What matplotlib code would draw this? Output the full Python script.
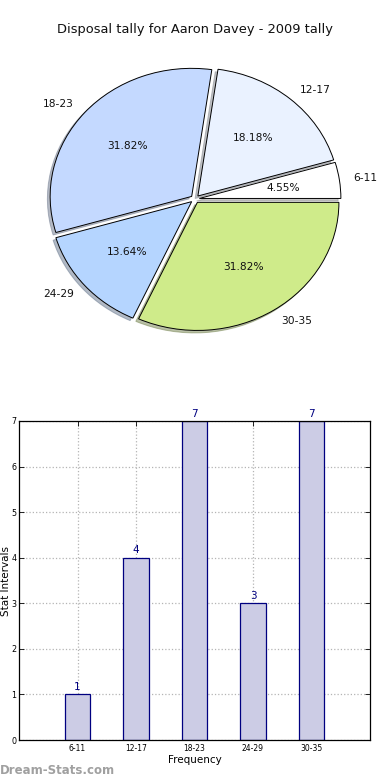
import matplotlib
matplotlib.use("Agg")
import matplotlib.pyplot as plt

categories = ["6-11", "12-17", "18-23", "24-29", "30-35"]
counts = [1, 4, 7, 3, 7]
pie_colors = ["#ffffff", "#eaf2ff", "#c4d9ff", "#b5d5ff", "#cfeb8a"]
title = "Disposal tally for Aaron Davey - 2009 tally"

fig = plt.figure(figsize=(3.9, 7.8), dpi=100)

# Pie
axp = fig.add_axes([0.0282, 0.5314, 0.9436, 0.4269])
wedges, texts, autotexts = axp.pie(
    counts, labels=categories, colors=pie_colors, explode=[0.031] * len(counts),
    startangle=0, autopct="%1.2f%%", pctdistance=0.6, labeldistance=1.1,
    shadow={"ox": -0.014, "oy": -0.014, "shade": 0.45},
    wedgeprops=dict(edgecolor="black", linewidth=0.7),
    textprops=dict(fontsize=7.7, color="#111111"))
axp.set_aspect("auto")
axp.set_xlim(-1.3, 1.3)
axp.set_ylim(-1.3, 1.3)
fig.text(0.5, 1 - 30 / 780, title, ha="center", va="center", fontsize=9.4, color="#111111")

# Bar chart
axb = fig.add_axes([19 / 390, 40 / 780, 351 / 390, 319 / 780])
xpos = list(range(1, len(categories) + 1))
axb.bar(xpos, counts, width=0.44, color="#ccccE5", edgecolor="#000080", linewidth=0.9, zorder=2)
for x, v in zip(xpos, counts):
    axb.text(x, v + 0.05, str(v), ha="center", va="bottom", color="#000080", fontsize=7.5)
axb.set_xlim(0, 6)
axb.set_ylim(0, 7)
axb.set_xticks(xpos)
axb.set_xticklabels(categories, fontsize=5.5)
axb.set_yticks(range(0, 8))
axb.tick_params(axis="y", labelsize=5.8, pad=2)
axb.tick_params(axis="x", pad=3)
axb.tick_params(direction="in", length=3.5, width=0.6, top=True, right=True)
axb.grid(True, linestyle=":", color="#b4b4b4", linewidth=0.9, zorder=1)
axb.set_axisbelow(True)
for s in axb.spines.values():
    s.set_linewidth(0.9)
axb.set_xlabel("Frequency", fontsize=7.5, labelpad=1)
axb.set_ylabel("Stat Intervals", fontsize=7.5)
axb.yaxis.set_label_coords(-0.024, 0.5)

fig.text(0.0, 3 / 780, "Dream-Stats.com", ha="left", va="bottom", fontsize=8.5,
         color="#a0a0a0", weight="bold")

fig.savefig("out.png", dpi=100)
